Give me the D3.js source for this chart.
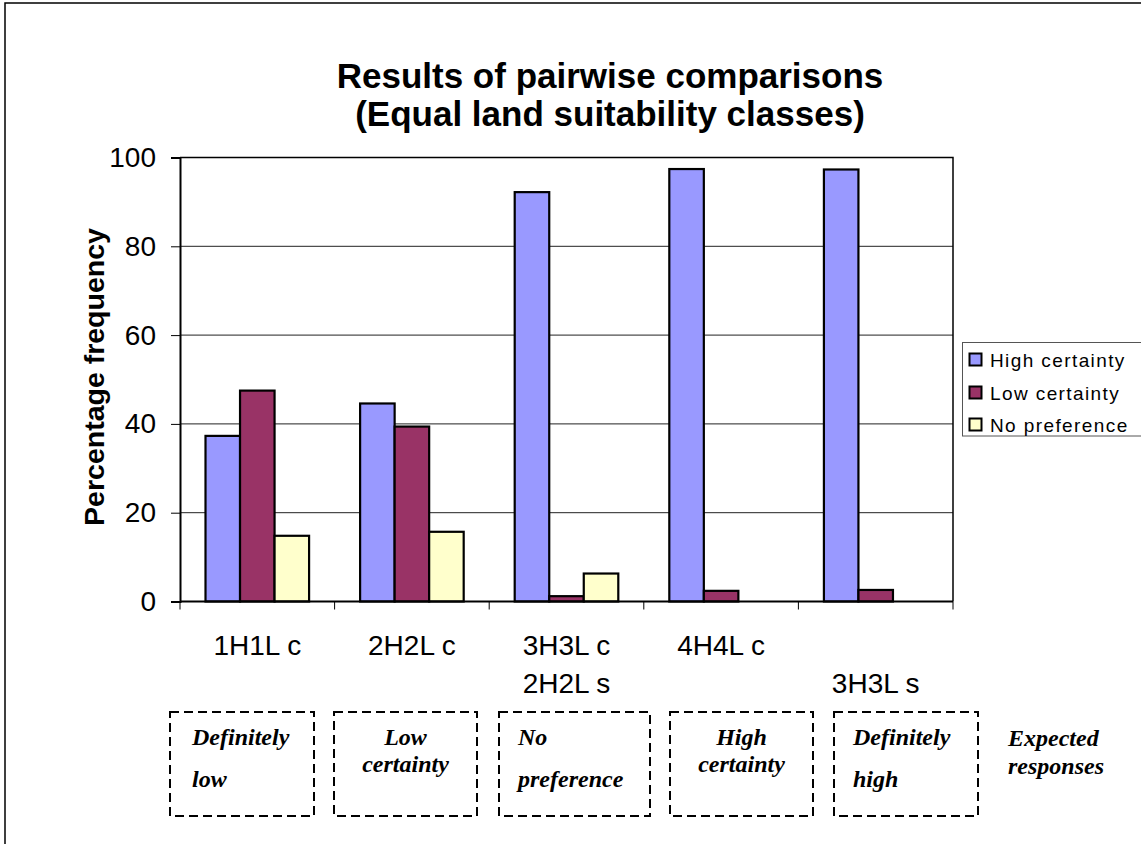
<!DOCTYPE html>
<html>
<head>
<meta charset="utf-8">
<script src="https://cdn.jsdelivr.net/npm/d3@7"></script>
<style>
  html, body { margin: 0; padding: 0; background: #fff; }
  svg { display: block; }
</style>
</head>
<body>
<svg id="chart" width="1141" height="844"></svg>
<script>
// Comparison groups (two-line axis labels)
const categories = ["g1", "g2", "g3", "g4", "g5"];
const categoryLine1 = ["1H1L c", "2H2L c", "3H3L c", "4H4L c", ""];
const categoryLine2 = ["", "", "2H2L s", "", "3H3L s"];

// Response series
const seriesNames = ["High certainty", "Low certainty", "No preference"];
const highCertainty = [37.3, 44.6, 92.2, 97.4, 97.3];
const lowCertainty = [47.5, 39.4, 1.2, 2.4, 2.6];
const noPreference = [14.8, 15.7, 6.3, 0, 0];

const yTicks = [0, 20, 40, 60, 80, 100];

// Expected responses shown under each group
const expectedLine1 = ["Definitely", "Low", "No", "High", "Definitely"];
const expectedLine2 = ["low", "certainty", "preference", "certainty", "high"];
const expectedAlign = ["left", "center", "left", "center", "left"];

const titleLines = ["Results of pairwise comparisons", "(Equal land suitability classes)"];
const yTitle = "Percentage frequency";
const expectedTitle = ["Expected", "responses"];

const colors = ["#9999FF", "#993366", "#FFFFCC"];

const svg = d3.select("#chart");
const plot = { left: 180, right: 953, top: 157.5, bottom: 601.5 };

// Outer chart frame
svg.append("rect")
  .attr("x", 5).attr("y", 3)
  .attr("width", 1200).attr("height", 900)
  .attr("fill", "#fff").attr("stroke", "#000").attr("stroke-width", 1.5);

const x0 = d3.scaleBand().domain(categories)
  .range([plot.left, plot.right]).paddingInner(0.33).paddingOuter(0.165);
const x1 = d3.scaleBand().domain(seriesNames).range([0, x0.bandwidth()]);
const y = d3.scaleLinear().domain([0, 100]).range([plot.bottom, plot.top]);

const step = x0.step();
const groupStart = i => plot.left + i * step;

// Gridlines
svg.append("g")
  .selectAll("line").data(yTicks.filter(t => t > 0 && t < 100)).join("line")
  .attr("x1", plot.left).attr("x2", plot.right)
  .attr("y1", d => y(d)).attr("y2", d => y(d))
  .attr("stroke", "#222").attr("stroke-width", 1);

// Plot area border (top and right)
svg.append("path")
  .attr("d", `M${plot.left},${plot.top}H${plot.right}V${plot.bottom}`)
  .attr("fill", "none").attr("stroke", "#000").attr("stroke-width", 1.5);

// Bars
const seriesData = [highCertainty, lowCertainty, noPreference];
const groups = svg.append("g").selectAll("g").data(categories).join("g")
  .attr("transform", d => `translate(${x0(d)},0)`);
groups.selectAll("rect")
  .data((d, i) => seriesData.map((s, k) => ({ k, v: s[i] })).filter(e => e.v > 0))
  .join("rect")
  .attr("x", d => x1(seriesNames[d.k]))
  .attr("width", x1.bandwidth())
  .attr("y", d => y(d.v))
  .attr("height", d => y(0) - y(d.v))
  .attr("fill", d => colors[d.k])
  .attr("stroke", "#000").attr("stroke-width", 2.2);

// Y axis
const yAxis = d3.axisLeft(y).tickValues(yTicks).tickSize(9).tickPadding(15);
const yg = svg.append("g").attr("transform", `translate(${plot.left},0)`).call(yAxis);
yg.select(".domain").attr("stroke", "#000").attr("stroke-width", 2);
yg.selectAll(".tick line").attr("stroke", "#000").attr("stroke-width", 1);
yg.selectAll(".tick text")
  .attr("font-family", "Liberation Sans, Arial, sans-serif")
  .attr("font-size", 28).attr("fill", "#000");

// X axis line and boundary ticks
svg.append("line")
  .attr("x1", plot.left).attr("x2", plot.right)
  .attr("y1", plot.bottom).attr("y2", plot.bottom)
  .attr("stroke", "#000").attr("stroke-width", 2);
svg.append("g").selectAll("line").data(d3.range(categories.length + 1)).join("line")
  .attr("x1", i => groupStart(i)).attr("x2", i => groupStart(i))
  .attr("y1", plot.bottom).attr("y2", plot.bottom + 8)
  .attr("stroke", "#000").attr("stroke-width", 1);

// Category labels
const catText = svg.append("g")
  .attr("font-family", "Liberation Sans, Arial, sans-serif")
  .attr("font-size", 28).attr("fill", "#000").attr("text-anchor", "middle");
categories.forEach((c, i) => {
  const cx = x0(c) + x0.bandwidth() / 2;
  if (categoryLine1[i]) catText.append("text").attr("x", cx).attr("y", 655).text(categoryLine1[i]);
  if (categoryLine2[i]) catText.append("text").attr("x", cx).attr("y", 693).text(categoryLine2[i]);
});

// Title
svg.append("g")
  .attr("font-family", "Liberation Sans, Arial, sans-serif")
  .attr("font-size", 35).attr("font-weight", "bold").attr("text-anchor", "middle")
  .selectAll("text").data(titleLines).join("text")
  .attr("x", 610).attr("y", (d, i) => 88 + i * 38)
  .text(d => d);

// Y axis title
svg.append("text")
  .attr("transform", "translate(104,377) rotate(-90)")
  .attr("font-family", "Liberation Sans, Arial, sans-serif")
  .attr("font-size", 28.5).attr("font-weight", "bold").attr("text-anchor", "middle")
  .text(yTitle);

// Legend
const legend = svg.append("g");
legend.append("rect")
  .attr("x", 962.5).attr("y", 342.5).attr("width", 200).attr("height", 93.5)
  .attr("fill", "#fff").attr("stroke", "#555").attr("stroke-width", 1);
const legendRows = [366.5, 399.5, 431.5];
seriesNames.forEach((name, k) => {
  legend.append("rect")
    .attr("x", 969.5).attr("y", legendRows[k] - 13).attr("width", 12).attr("height", 12)
    .attr("fill", colors[k]).attr("stroke", "#000").attr("stroke-width", 2);
  legend.append("text")
    .attr("x", 990).attr("y", legendRows[k])
    .attr("font-family", "Liberation Sans, Arial, sans-serif")
    .attr("font-size", 19).attr("letter-spacing", 1.4)
    .text(name);
});

// Expected-response boxes
const boxLeft = [170, 334, 499, 670, 834];
const boxRight = [314, 477, 650, 813, 978];
const boxTop = 712, boxBottom = 816;
const ann = svg.append("g")
  .attr("font-family", "Liberation Serif, Times New Roman, serif")
  .attr("font-size", 24).attr("font-weight", "bold").attr("font-style", "italic");
categories.forEach((c, i) => {
  ann.append("rect")
    .attr("x", boxLeft[i]).attr("y", boxTop)
    .attr("width", boxRight[i] - boxLeft[i]).attr("height", boxBottom - boxTop)
    .attr("fill", "none").attr("stroke", "#000").attr("stroke-width", 2)
    .attr("stroke-dasharray", "9,5");
  if (expectedAlign[i] === "center") {
    const cx = (boxLeft[i] + boxRight[i]) / 2;
    ann.append("text").attr("x", cx).attr("y", 745).attr("text-anchor", "middle").text(expectedLine1[i]);
    ann.append("text").attr("x", cx).attr("y", 772).attr("text-anchor", "middle").text(expectedLine2[i]);
  } else {
    const lx = boxLeft[i] + (i === 0 ? 22 : 19);
    ann.append("text").attr("x", lx).attr("y", 745).text(expectedLine1[i]);
    ann.append("text").attr("x", lx).attr("y", 787).text(expectedLine2[i]);
  }
});
ann.selectAll("text.exp").data(expectedTitle).join("text")
  .attr("class", "exp")
  .attr("x", 1008).attr("y", (d, i) => 746 + i * 28)
  .text(d => d);
</script>
</body>
</html>
